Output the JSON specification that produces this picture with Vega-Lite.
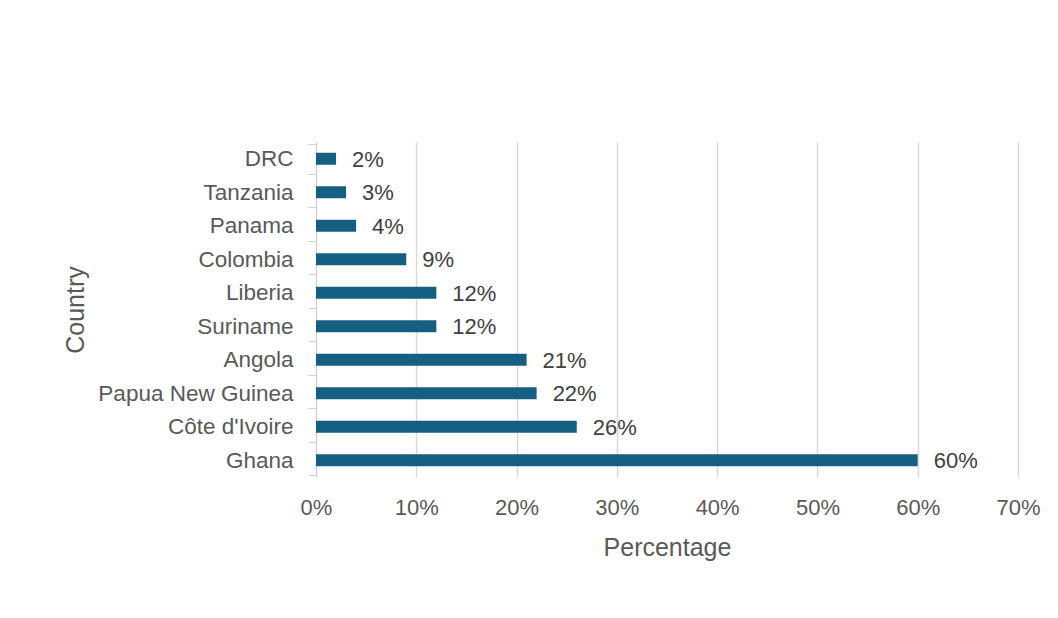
{
  "$schema": "https://vega.github.io/schema/vega-lite/v6.json",
  "autosize": "none",
  "width": 702,
  "height": 335,
  "padding": {"left": 316, "top": 142, "right": 40, "bottom": 141},
  "background": "#ffffff",
  "config": {
    "view": {"stroke": null},
    "font": "Liberation Sans"
  },
  "data": {
    "values": [
      {"Country": "DRC", "Percentage": 0.02},
      {"Country": "Tanzania", "Percentage": 0.03},
      {"Country": "Panama", "Percentage": 0.04},
      {"Country": "Colombia", "Percentage": 0.09},
      {"Country": "Liberia", "Percentage": 0.12},
      {"Country": "Suriname", "Percentage": 0.12},
      {"Country": "Angola", "Percentage": 0.21},
      {"Country": "Papua New Guinea", "Percentage": 0.22},
      {"Country": "Côte d'Ivoire", "Percentage": 0.26},
      {"Country": "Ghana", "Percentage": 0.60}
    ]
  },
  "encoding": {
    "y": {
      "field": "Country",
      "type": "nominal",
      "sort": ["DRC", "Tanzania", "Panama", "Colombia", "Liberia", "Suriname", "Angola", "Papua New Guinea", "Côte d'Ivoire", "Ghana"],
      "title": "Country",
      "axis": {
        "tickBand": "extent",
        "tickSize": 8,
        "tickColor": "#d0d0d0",
        "domainColor": "#d0d0d0",
        "labelPadding": 15,
        "labelLimit": 400,
        "labelFontSize": 22.5,
        "labelColor": "#595959",
        "titleFontSize": 25,
        "titleFontWeight": "normal",
        "titleColor": "#595959",
        "titlePadding": 28,
        "grid": false
      }
    },
    "x": {
      "field": "Percentage",
      "type": "quantitative",
      "scale": {"domain": [0, 0.7]},
      "title": "Percentage",
      "axis": {
        "format": ".0%",
        "values": [0, 0.1, 0.2, 0.3, 0.4, 0.5, 0.6, 0.7],
        "domain": false,
        "ticks": false,
        "labelFlush": false,
        "gridColor": "#d9d9d9",
        "gridWidth": 1.5,
        "labelPadding": 20,
        "labelFontSize": 22,
        "labelColor": "#595959",
        "titleFontSize": 25,
        "titleFontWeight": "normal",
        "titleColor": "#595959",
        "titlePadding": 17
      }
    }
  },
  "layer": [
    {"mark": {"type": "bar", "color": "#156082", "size": 12}},
    {
      "mark": {"type": "text", "align": "left", "baseline": "middle", "dx": 16, "dy": 1, "fontSize": 22, "color": "#404040"},
      "encoding": {"text": {"field": "Percentage", "type": "quantitative", "format": ".0%"}}
    }
  ]
}
